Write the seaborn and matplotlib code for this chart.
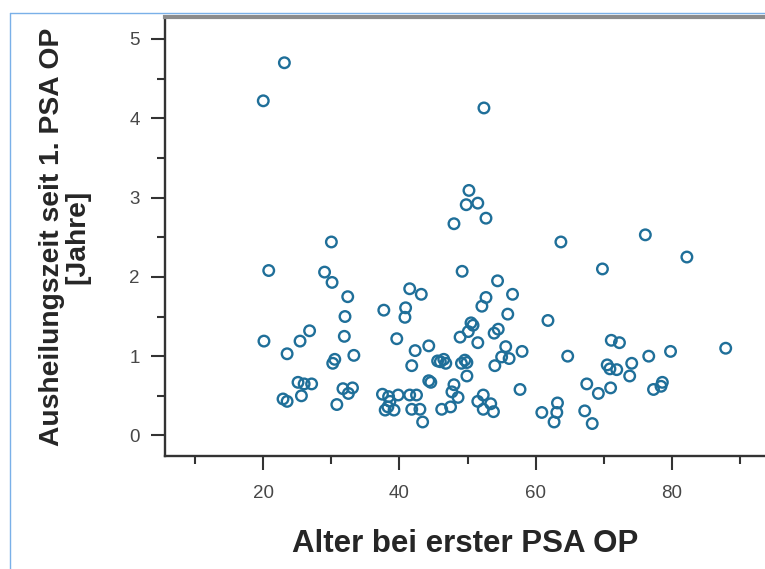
import numpy as np
import matplotlib
matplotlib.use("Agg")
import matplotlib.pyplot as plt
from matplotlib.lines import Line2D
import seaborn as sns

# Alter bei erster PSA OP (x) / Ausheilungszeit in Jahren (y)
alter = [
    20.0, 23.1, 20.8, 30.0, 29.0, 30.1, 32.4, 32.0, 31.9, 26.8,
    25.4, 20.1, 23.5, 33.3, 30.5, 30.2, 25.1, 26.0, 27.1, 25.6,
    22.9, 23.5, 30.8, 31.7, 32.5, 33.1, 37.7, 41.5, 43.2, 40.9,
    40.8, 39.6, 42.3, 44.3, 41.8, 45.6, 46.0, 46.5, 46.8, 44.3,
    44.6, 48.0, 47.7, 48.6, 47.5, 46.2, 48.0, 49.2, 48.9, 49.6,
    49.9, 49.1, 49.9, 37.5, 38.4, 38.6, 38.3, 37.9, 39.2, 39.8,
    41.5, 42.5, 41.8, 43.0, 43.4, 52.4, 50.2, 49.8, 51.5, 52.7,
    63.7, 76.1, 82.2, 69.8, 54.4, 56.6, 52.7, 52.1, 55.9, 61.8,
    50.5, 50.8, 50.1, 54.5, 53.9, 51.5, 55.6, 55.0, 56.1, 58.0,
    54.0, 64.7, 71.1, 72.3, 76.6, 79.8, 87.9, 70.5, 70.9, 71.9,
    74.1, 73.8, 67.5, 69.2, 71.0, 78.6, 78.4, 77.3, 57.7, 52.3,
    51.5, 52.3, 53.4, 53.8, 60.9, 63.2, 63.1, 62.7, 67.2, 68.3,
]
jahre = [
    4.22, 4.70, 2.08, 2.44, 2.06, 1.93, 1.75, 1.50, 1.25, 1.32,
    1.19, 1.19, 1.03, 1.01, 0.96, 0.91, 0.67, 0.65, 0.65, 0.50,
    0.46, 0.43, 0.39, 0.59, 0.53, 0.60, 1.58, 1.85, 1.78, 1.61,
    1.49, 1.22, 1.07, 1.13, 0.88, 0.94, 0.93, 0.96, 0.91, 0.69,
    0.67, 0.64, 0.55, 0.48, 0.36, 0.33, 2.67, 2.07, 1.24, 0.95,
    0.92, 0.91, 0.75, 0.52, 0.49, 0.43, 0.36, 0.32, 0.32, 0.51,
    0.51, 0.51, 0.33, 0.33, 0.17, 4.13, 3.09, 2.91, 2.93, 2.74,
    2.44, 2.53, 2.25, 2.10, 1.95, 1.78, 1.74, 1.63, 1.53, 1.45,
    1.42, 1.39, 1.31, 1.34, 1.29, 1.17, 1.12, 0.99, 0.97, 1.06,
    0.88, 1.00, 1.20, 1.17, 1.00, 1.06, 1.10, 0.89, 0.84, 0.83,
    0.91, 0.75, 0.65, 0.53, 0.60, 0.67, 0.62, 0.58, 0.58, 0.51,
    0.43, 0.33, 0.40, 0.30, 0.29, 0.41, 0.29, 0.17, 0.31, 0.15,
]

x_ticks = [20, 40, 60, 80]
y_ticks = [0, 1, 2, 3, 4, 5]

punkt_farbe = "#1f6f99"
achsen_farbe = "#333333"

sns.set_style("ticks")
plt.rcParams["font.family"] = ["Liberation Sans", "DejaVu Sans"]

fig = plt.figure(figsize=(7.65, 5.69), dpi=100)
ax = fig.add_axes([165 / 765, 1 - 456 / 569, 600 / 765, (456 - 17) / 569])

sns.scatterplot(x=alter, y=jahre, ax=ax, marker="o", s=58, linewidth=1.7)
coll = ax.collections[0]
coll.set_facecolor("none")
coll.set_edgecolor(punkt_farbe)

ax.set_xlim(5.57, 93.67)
ax.set_ylim(-0.259, 5.277)

ax.set_xticks(x_ticks)
ax.set_xticks([10, 30, 50, 70, 90], minor=True)
ax.set_yticks(y_ticks)
ax.set_yticks([0.5, 1.5, 2.5, 3.5, 4.5], minor=True)

ax.tick_params(axis="both", which="major", length=10, width=1.5,
               color=achsen_farbe, labelsize=13.5, labelcolor="#474747")
ax.tick_params(axis="both", which="minor", length=5.5, width=1.5,
               color=achsen_farbe)
ax.tick_params(axis="x", which="major", pad=11)
ax.tick_params(axis="y", which="major", pad=8)

for side in ["left", "bottom"]:
    ax.spines[side].set_color(achsen_farbe)
    ax.spines[side].set_linewidth(1.7)
ax.spines["top"].set_color("#8c8c8c")
ax.spines["top"].set_linewidth(3)
ax.spines["right"].set_visible(False)

ax.set_xlabel("Alter bei erster PSA OP", fontsize=22.5, fontweight="bold", labelpad=19)
ax.set_ylabel("Ausheilungszeit seit 1. PSA OP\n[Jahre]", fontsize=20.3,
              fontweight="bold", linespacing=1.0, labelpad=28)

# blue screenshot frame
fig.add_artist(Line2D([10 / 765, 10 / 765], [0, 1 - 12.5 / 569], color="#7ab0e8", lw=1.0))
fig.add_artist(Line2D([10 / 765, 1], [1 - 12.5 / 569, 1 - 12.5 / 569], color="#7ab0e8", lw=1.0))

fig.savefig("out.png", dpi=100)
